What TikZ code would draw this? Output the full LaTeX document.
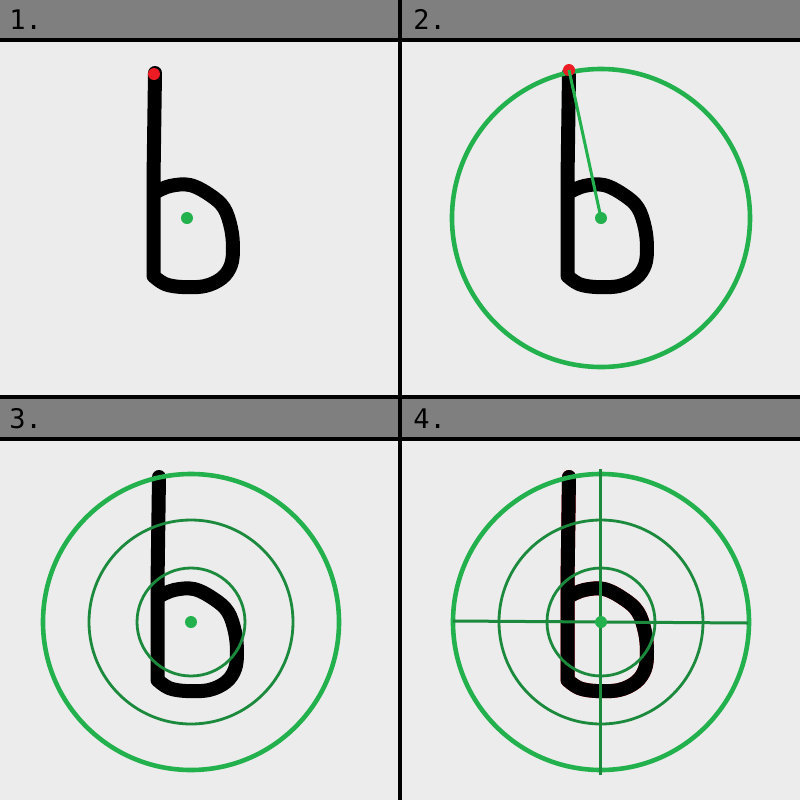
\documentclass[tikz,border=0pt]{standalone}
\usepackage{fontspec}
\setmonofont{DejaVu Sans Mono}
\usepackage{xcolor}
\usepackage{tikz}

\definecolor{paper}{RGB}{236,236,236}
\definecolor{bar}{RGB}{127,127,127}
\definecolor{markred}{RGB}{237,28,36}
\definecolor{lightgreen}{RGB}{34,177,76}
\definecolor{darkgreen}{RGB}{27,138,61}

\begin{document}
\begin{tikzpicture}[x=0.5pt, y=-0.5pt,
    headlabel/.style={anchor=base west, inner sep=0pt, font=\ttfamily\fontsize{13.5pt}{15pt}\selectfont},
    dot/.style={circle, inner sep=0pt, minimum size=6pt, fill=#1},
    ring/.style={draw=lightgreen, line width=2.3pt},
    thinring/.style={draw=darkgreen, line width=1.4pt},
    cross/.style={draw=darkgreen, line width=1.5pt},
    radius line/.style={draw=lightgreen, line width=1.5pt},
    divider/.style={draw=black, line width=2pt},
    letterb/.pic={
        \draw[line width=7pt, line cap=round, line join=round, pic actions]
            (155,73) -- (153.5,180) -- (153.5,276)
            -- plot[smooth, tension=0.6] coordinates {(153.5,276) (165,284) (182,287) (205,286) (222,278)
               (231,265) (233,248) (231,228) (224,208) (210,195) (190,185) (170,186) (156,192)};
    }]
    \useasboundingbox (0,0) rectangle (800,800);
    \fill[paper] (0,0) rectangle (800,800);

    % headers
    \fill[bar] (0,0) rectangle (800,40);
    \fill[bar] (0,397) rectangle (800,439);
    \node[headlabel] (step1) at (9,29) {1.};
    \node[headlabel] (step2) at (413,29) {2.};
    \node[headlabel] (step3) at (9,428) {3.};
    \node[headlabel] (step4) at (413,428) {4.};

    % 1. stroke with its top and centre
    \pic (b1) at (0,0) {letterb};
    \node[dot=markred] (tip1) at (154,74) {};
    \node[dot=lightgreen] (ctr1) at (187,218) {};

    % 2. circle through the top point
    \pic (b2) at (414,0) {letterb};
    \node[dot=lightgreen] (ctr2) at (601,218) {};
    \draw[ring] (ctr2.center) circle[radius=149];
    \node[dot=markred] (tip2) at (569,70) {};
    \draw[radius line] (tip2.center) -- (ctr2.center);

    % 3. rings
    \pic (b3) at (4,404) {letterb};
    \node[dot=lightgreen] (ctr3) at (191,622) {};
    \draw[ring] (ctr3.center) circle[radius=148];
    \draw[thinring] (ctr3.center) circle[radius=102];
    \draw[thinring] (ctr3.center) circle[radius=54];

    % 4. rings and sectors
    \pic[draw=markred, line width=8pt] (b4edge) at (414,404) {letterb};
    \pic (b4) at (414,404) {letterb};
    \coordinate (west4) at (453,621);
    \coordinate (east4) at (748,623);
    \coordinate (north4) at (600,469);
    \coordinate (south4) at (600,775);
    \draw[ring] (601,622) circle[radius=148];
    \draw[thinring] (601,622) circle[radius=102];
    \draw[thinring] (601,622) circle[radius=54];
    \draw[cross] (west4) -- (east4);
    \draw[cross] (north4) -- (south4);
    \node[dot=lightgreen] (ctr4) at (601,622) {};

    % panel borders
    \draw[divider] (400,0) -- (400,800);
    \draw[divider] (0,397) -- (800,397);
    \draw[divider] (0,40) -- (800,40);
    \draw[divider] (0,439) -- (800,439);
\end{tikzpicture}
\end{document}
